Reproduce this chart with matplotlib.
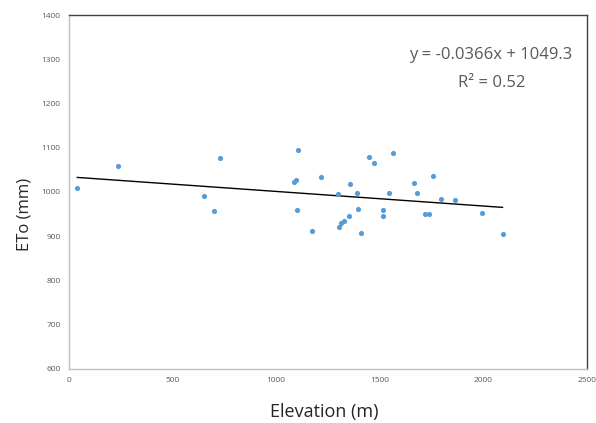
import numpy as np
import matplotlib
matplotlib.use('Agg')
import matplotlib.pyplot as plt

plt.rcParams['font.family'] = ['Open Sans', 'DejaVu Sans']

# Station elevation (m) and reference evapotranspiration ETo (mm)
elevation = [40, 236, 730, 650, 698, 1107, 1087, 1097, 1216, 1098,
             1174, 1298, 1355, 1388, 1449, 1473, 1565, 1397, 1349, 1325,
             1313, 1305, 1407, 1517, 1517, 1544, 1664, 1678, 1758, 1793,
             1864, 1716, 1735, 1992, 2092]
eto = [1008, 1058, 1077, 992, 956, 1096, 1022, 1027, 1033, 959,
       912, 995, 1019, 997, 1080, 1066, 1088, 962, 945, 934,
       929, 920, 907, 959, 946, 997, 1020, 997, 1036, 984,
       981, 951, 951, 953, 904]

eq_label = 'y = -0.0366x + 1049.3'
r2_label = 'R\u00b2 = 0.52'

x_ticks = [0, 500, 1000, 1500, 2000, 2500]
y_ticks = [600, 700, 800, 900, 1000, 1100, 1200, 1300, 1400]

fig = plt.figure(figsize=(5.96, 4.23), dpi=100)
ax = fig.add_axes([0.1158, 0.1277, 0.8692, 0.8368])

ax.scatter(elevation, eto, s=14, color='#5B9BD5', zorder=3, linewidths=0)

# linear trendline over the data range
slope, intercept = np.polyfit(elevation, eto, 1)
xl = np.array([min(elevation), max(elevation)])
ax.plot(xl, slope * xl + intercept, color='black', linewidth=1.0, zorder=2)

ax.set_xlim(0, 2500)
ax.set_ylim(600, 1400)
ax.set_xticks(x_ticks)
ax.set_yticks(y_ticks)
ax.tick_params(length=0, labelsize=6, colors='#595959', pad=6)

ax.spines['left'].set_color('#bfbfbf')
ax.spines['bottom'].set_color('#bfbfbf')
ax.spines['top'].set_color('#404040')
ax.spines['right'].set_color('#404040')
for s in ax.spines.values():
    s.set_linewidth(1.0)

ax.set_xlabel('Elevation (m)', fontsize=13, color='#262626')
ax.set_ylabel('ETo (mm)', fontsize=12, color='#262626')
ax.xaxis.set_label_coords(0.492, -0.096)
ax.yaxis.set_label_coords(-0.071, 0.438)

ax.text(0.814, 0.887, eq_label, transform=ax.transAxes,
        ha='center', va='center', fontsize=12, color='#595959')
ax.text(0.815, 0.808, r2_label, transform=ax.transAxes,
        ha='center', va='center', fontsize=12, color='#595959')

fig.savefig('out.png', dpi=100)
